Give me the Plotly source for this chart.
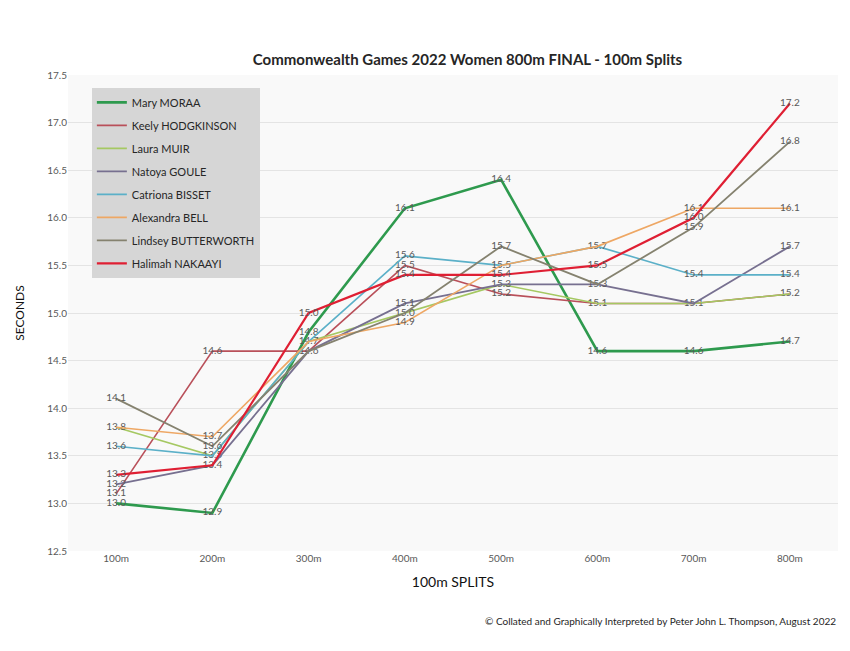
import plotly.graph_objects as go

splits = ["100m", "200m", "300m", "400m", "500m", "600m", "700m", "800m"]

athletes = ["Mary MORAA", "Keely HODGKINSON", "Laura MUIR", "Natoya GOULE",
            "Catriona BISSET", "Alexandra BELL", "Lindsey BUTTERWORTH", "Halimah NAKAAYI"]

moraa = [13.0, 12.9, 14.8, 16.1, 16.4, 14.6, 14.6, 14.7]
hodgkinson = [13.1, 14.6, 14.6, 15.5, 15.2, 15.1, 15.1, 15.2]
muir = [13.8, 13.5, 14.7, 15.0, 15.3, 15.1, 15.1, 15.2]
goule = [13.2, 13.4, 14.6, 15.1, 15.3, 15.3, 15.1, 15.7]
bisset = [13.6, 13.5, 14.7, 15.6, 15.5, 15.7, 15.4, 15.4]
bell = [13.8, 13.7, 14.7, 14.9, 15.5, 15.7, 16.1, 16.1]
butterworth = [14.1, 13.6, 14.6, 15.0, 15.7, 15.3, 15.9, 16.8]
nakaayi = [13.3, 13.4, 15.0, 15.4, 15.4, 15.5, 16.0, 17.2]

series = [moraa, hodgkinson, muir, goule, bisset, bell, butterworth, nakaayi]
colors = ["#2e9a4e", "#b9505a", "#a5c862", "#777090", "#5bb0c8", "#eea764", "#85826f", "#df1f33"]
widths = [2.6, 1.6, 1.6, 1.8, 1.6, 1.6, 1.8, 2.2]

# identical labels at the same split coincide in the reference; draw each only once
seen = set()
labels = []
for vals in series:
    row = []
    for i, v in enumerate(vals):
        key = (i, round(v, 1))
        row.append("" if key in seen else f"{v:.1f}")
        seen.add(key)
    labels.append(row)

fig = go.Figure()
for name, vals, txt, col, w in zip(athletes, series, labels, colors, widths):
    fig.add_trace(go.Scatter(
        x=splits, y=vals, name=name, mode="lines+text",
        text=txt, textposition="middle center",
        textfont=dict(family="Lato, Open Sans, sans-serif", size=10, color="#595959"),
        line=dict(color=col, width=w), legendgroup=name, cliponaxis=False,
    ))

fig.update_layout(
    width=850, height=651,
    margin=dict(l=68, r=12, t=75, b=100),
    paper_bgcolor="white", plot_bgcolor="#f9f9f9",
    title=dict(text="<b>Commonwealth Games 2022 Women 800m FINAL - 100m Splits</b>",
               x=0.55, xanchor="center", y=0.908, yanchor="middle",
               font=dict(family="Lato, Open Sans, sans-serif", size=15, color="#262626")),
    font=dict(family="Lato, Open Sans, sans-serif", color="#595959"),
    legend=dict(x=0.031, y=0.973, xanchor="left", yanchor="top",
                bgcolor="#d6d6d6", borderwidth=0,
                font=dict(size=11, color="#262626"),
                tracegroupgap=4, itemwidth=30,
                entrywidth=145),
    showlegend=True,
    xaxis=dict(showgrid=False, showline=False, zeroline=False, ticks="",
               tickfont=dict(size=10, color="#595959"),
               title=dict(text="100m SPLITS", font=dict(size=14, color="#111111"), standoff=14),
               range=[-0.5, 7.5]),
    yaxis=dict(range=[12.5, 17.5], dtick=0.5, tickformat=".1f",
               showgrid=True, gridcolor="#e4e4e4", gridwidth=1, zeroline=False,
               showline=False, ticks="", tickfont=dict(size=10, color="#595959"),
               title=dict(text="SECONDS", font=dict(size=12, color="#111111"), standoff=20)),
)

fig.add_annotation(
    text="© Collated and Graphically Interpreted by Peter John L. Thompson, August 2022",
    xref="paper", yref="paper", x=1.0, y=-0.148, xanchor="right", yanchor="middle",
    showarrow=False, font=dict(size=10, color="#262626", family="Lato, Open Sans, sans-serif"),
)

fig.write_html("out.html")
